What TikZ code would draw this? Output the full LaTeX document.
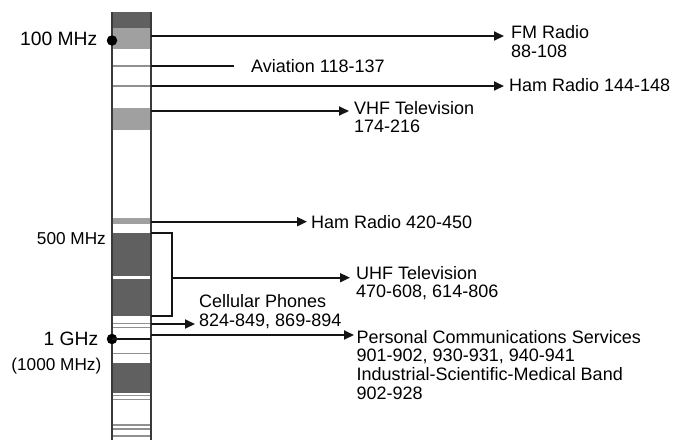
\documentclass[tikz,border=0pt]{standalone}
\usepackage{fontspec}
\setmainfont{Liberation Sans}
\usetikzlibrary{arrows.meta}
\newcommand{\mlines}[1]{\begin{tabular}[t]{@{}l@{}}#1\end{tabular}}
\definecolor{darkband}{HTML}{606060}
\definecolor{lightband}{HTML}{A0A0A0}
\definecolor{edgegray}{HTML}{3A3A3A}
\definecolor{ink}{HTML}{151515}
\begin{document}
\begin{tikzpicture}[x=1pt,y=-1pt,
  lbl/.style={inner sep=0pt, anchor=base west, font=\fontsize{18}{18.6}\selectfont},
  biglbl/.style={inner sep=0pt, anchor=base east, font=\fontsize{19.3}{20}\selectfont},
  smalllbl/.style={inner sep=0pt, anchor=base east, font=\fontsize{17.2}{18}\selectfont},
  conn/.style={draw=ink, line width=1.8pt},
  arr/.style={conn, -{Triangle[length=10pt,width=9pt]}},
  dband/.style={fill=darkband},
  lband/.style={fill=lightband},
  thin/.style={draw=lightband!90!black, line width=1.4pt},
  coledge/.style={draw=edgegray, line width=1.9pt},
  dotm/.style={circle, fill=black, inner sep=0pt, minimum size=10.5pt}
]
\useasboundingbox (0,0) rectangle (695,440);

% ---- spectrum column bands ----
\fill[dband] (112,12) rectangle (151,28);
\fill[lband] (112,28) rectangle (151,49);
\draw[thin] (112,66) -- (151,66);
\draw[thin] (112,86) -- (151,86);
\fill[lband] (112,108) rectangle (151,130);
\fill[lband] (112,218) rectangle (151,223.5);
\fill[dband] (112,233) rectangle (151,276);
\fill[dband] (112,279) rectangle (151,315.5);
\draw[thin] (112,323.5) -- (151,323.5);
\draw[thin] (112,327.5) -- (151,327.5);
\draw[thin] (112,353.5) -- (151,353.5);
\fill[dband] (112,362.5) rectangle (151,392.5);
\draw[thin] (112,395.5) -- (151,395.5);
\draw[thin] (112,399.5) -- (151,399.5);
\draw[thin] (112,425) -- (151,425);
\draw[thin] (112,429) -- (151,429);
\draw[thin] (112,436) -- (151,436);

% ---- column edges ----
\coordinate (colTL) at (112,12);
\coordinate (colBL) at (112,440);
\coordinate (colTR) at (151,12);
\coordinate (colBR) at (151,440);
\draw[coledge] (colTL) -- (colBL);
\draw[coledge] (colTR) -- (colBR);

% ---- marker dots and left labels ----
\node[dotm] (d100) at (112,40.5) {};
\node[dotm] (d1g) at (112,339) {};
\coordinate (d1gR) at (151,339);
\draw[conn, line width=1.4pt] (d1g.center) -- (d1gR);

\node[biglbl] (l100) at (97.5,45.5) {100 MHz};
\node[smalllbl] (l500) at (106,244.3) {500 MHz};
\node[biglbl] (l1g) at (98.5,345) {1 GHz};
\node[smalllbl] (l1000) at (101.5,370.5) {(1000 MHz)};

% ---- right labels ----
\node[lbl] (fm) at (511,38.5) {\mlines{FM Radio\\88-108}};
\node[lbl] (av) at (251,72.3) {Aviation 118-137};
\node[lbl] (ham1) at (509,91.7) {Ham Radio 144-148};
\node[lbl] (vhf) at (354,114) {\mlines{VHF Television\\174-216}};
\node[lbl] (ham2) at (311,228.3) {Ham Radio 420-450};
\node[lbl] (uhf) at (356,279.3) {\mlines{UHF Television\\470-608, 614-806}};
\node[lbl] (cell) at (199,307.7) {\mlines{Cellular Phones\\824-849, 869-894}};
\node[lbl] (pcs) at (356.5,343.3) {\mlines{Personal Communications Services\\901-902, 930-931, 940-941\\Industrial-Scientific-Medical Band\\902-928}};

% ---- connectors ----
\coordinate (fmS) at (151,36);    \coordinate (fmE) at (504,36);
\coordinate (avS) at (151,66);    \coordinate (avE) at (234,66);
\coordinate (h1S) at (151,86);    \coordinate (h1E) at (504,86);
\coordinate (vhS) at (151,111);   \coordinate (vhE) at (349,111);
\coordinate (h2S) at (151,221.7); \coordinate (h2E) at (307,221.7);
\coordinate (brT) at (151,233);   \coordinate (brB) at (151,315.7);
\coordinate (brC) at (172,315.7);
\coordinate (uhS) at (172,277.7); \coordinate (uhE) at (350,277.7);
\coordinate (ceS) at (151,324);   \coordinate (ceE) at (195,324);
\coordinate (pcS) at (151,335);   \coordinate (pcE) at (354,335);

\draw[arr] (fmS) -- (fmE);
\draw[conn] (avS) -- (avE);
\draw[arr] (h1S) -- (h1E);
\draw[arr] (vhS) -- (vhE);
\draw[arr] (h2S) -- (h2E);
\draw[conn] (brT) -| (brC) -- (brB);
\draw[arr] (uhS) -- (uhE);
\draw[arr] (ceS) -- (ceE);
\draw[arr] (pcS) -- (pcE);
\end{tikzpicture}
\end{document}
